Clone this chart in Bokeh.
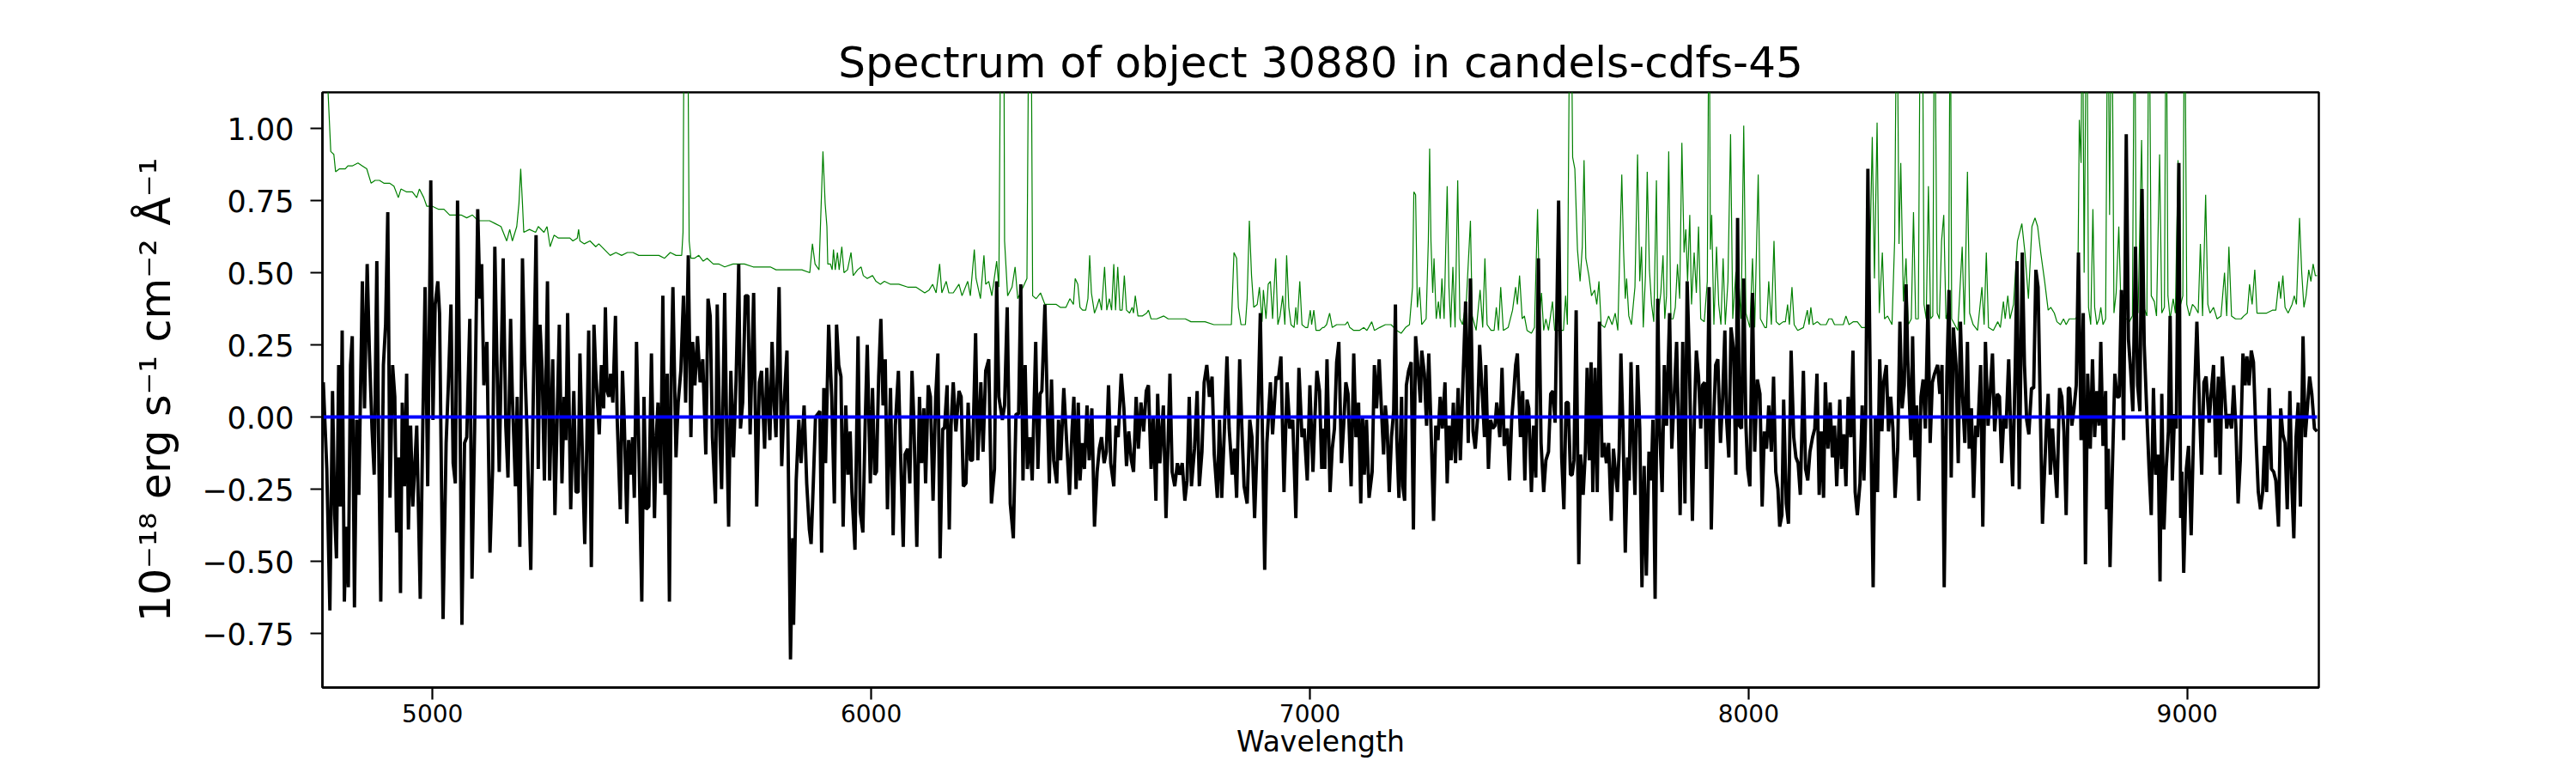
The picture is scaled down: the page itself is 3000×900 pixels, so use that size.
from bokeh.plotting import figure
from bokeh.models import Range1d, FixedTicker, CustomJSTickFormatter
from bokeh.embed import file_html
from bokeh.resources import INLINE

TITLE = "Spectrum of object 30880 in candels-cdfs-45"
X_LABEL = "Wavelength"
Y_LABEL = "10\u207b\u00b9\u2078 erg s\u207b\u00b9 cm\u207b\u00b2 \u00c5\u207b\u00b9"
x_ticks = [5000, 6000, 7000, 8000, 9000]
y_ticks = [-0.75, -0.5, -0.25, 0.0, 0.25, 0.5, 0.75, 1.0]

black_1 = [(4751,0.12),(4759,-0.18),(4766,-0.67),(4772,0.09),(4777,-0.34),(4781,-0.49),(4786,0.18),(4790,-0.31),(4794,0.30),(4799,-0.64),(4803,-0.38),(4808,-0.59),(4813,0.18),(4817,0.28),(4822,-0.66),(4827,-0.01),(4832,-0.27),(4840,0.47),(4845,0.03),(4851,0.53),(4856,0.23),(4862,-0.04),(4867,-0.20),(4873,0.54),(4877,-0.07),(4882,-0.64),(4888,0.18),(4893,0.32),(4898,0.71),(4903,-0.28),(4909,0.18),(4914,0.07),(4918,-0.40),(4923,-0.14),(4927,-0.61),(4931,0.05),(4936,-0.24),(4941,0.15),(4945,-0.39),(4950,-0.03),(4955,-0.31),(4964,-0.03),(4972,-0.63),(4978,-0.01),(4983,0.45),(4989,-0.24),(4996,0.82),(5001,-0.01),(5006,0.39),(5012,0.47),(5016,0.36),(5024,-0.70),(5031,-0.09),(5036,0.11),(5042,0.39),(5047,-0.16),(5052,-0.23),(5057,0.75),(5062,0.12),(5067,-0.72),(5073,-0.09),(5078,-0.07),(5085,0.34),(5090,-0.56),(5096,-0.04),(5103,0.72),(5108,0.41),(5112,0.53),(5117,0.11),(5124,0.26),(5131,-0.47),(5137,-0.18),(5142,0.59),(5147,0.18),(5152,-0.19),(5161,0.55),(5167,-0.03),(5172,-0.21),(5178,0.34),(5182,0.07),(5189,-0.24),(5193,0.07),(5199,-0.45),(5205,0.55),(5210,0.20),(5215,-0.03),(5224,-0.53),(5229,0.01),(5236,0.63),(5241,-0.18),(5245,0.32),(5250,0.16),(5255,-0.22),(5262,0.47),(5267,-0.22),(5274,0.20),(5279,-0.34),(5284,-0.01),(5289,0.32),(5295,-0.23),(5300,0.07),(5304,-0.08),(5308,0.36),(5315,-0.32),(5322,0.09)]
black_2 = [(5327,-0.26),(5332,-0.26),(5336,0.22),(5343,-0.22),(5347,-0.44),(5351,-0.15),(5356,0.30),(5362,-0.52),(5368,0.32),(5372,0.16),(5376,0.05),(5380,-0.06),(5385,0.18),(5390,0.03),(5394,0.38),(5398,0.09),(5402,0.07),(5406,0.15),(5411,0.05),(5417,0.35),(5421,-0.01),(5428,-0.32),(5433,0.16),(5437,-0.01),(5443,-0.37),(5447,-0.08),(5452,-0.20),(5456,-0.07),(5460,-0.28),(5465,0.26),(5470,-0.08),(5477,-0.64),(5482,0.07),(5487,-0.32),(5493,-0.31),(5499,0.22),(5506,-0.35),(5510,-0.07),(5514,0.05),(5520,-0.23),(5525,0.42),(5530,-0.27),(5535,0.15),(5540,-0.64),(5544,0.15),(5548,0.45),(5555,-0.14),(5560,0.05),(5566,0.16),(5572,0.42),(5577,0.05),(5583,0.56),(5589,-0.07),(5593,0.26),(5598,0.11),(5604,0.28),(5610,0.12),(5616,0.20),(5623,-0.13),(5628,0.41),(5633,0.35),(5638,-0.07),(5645,-0.30),(5649,0.39),(5654,-0.01),(5659,-0.25),(5666,0.43),(5670,0.00),(5675,-0.38),(5680,0.16),(5686,-0.14),(5692,0.13),(5698,0.53),(5702,-0.04),(5707,0.05),(5713,0.42),(5719,0.42),(5724,-0.06),(5732,0.43),(5739,-0.31),(5745,0.12),(5750,0.16),(5757,-0.11),(5762,0.17),(5769,-0.08),(5774,0.26),(5779,0.04),(5783,-0.07),(5790,0.45),(5796,-0.17),(5801,0.04),(5808,0.23),(5813,-0.42),(5816,-0.84),(5821,-0.42),(5823,-0.72),(5829,-0.22),(5835,-0.01),(5840,-0.16),(5847,0.04),(5853,-0.23),(5859,-0.39),(5863,-0.44),(5868,-0.23),(5873,0.00),(5878,0.01),(5883,0.02),(5887,-0.47),(5892,0.10)]
black_3 = [(5896,-0.16),(5903,0.32),(5910,0.07),(5916,-0.30),(5921,0.32),(5926,0.18),(5931,0.14),(5936,-0.38),(5942,0.04),(5947,-0.20),(5952,-0.05),(5956,-0.26),(5963,-0.46),(5970,0.28),(5975,-0.33),(5981,-0.40),(5986,-0.04),(5991,0.25),(5998,-0.23),(6003,0.10),(6008,-0.20),(6012,-0.19),(6017,0.14),(6022,0.34),(6027,0.04),(6032,0.20),(6037,-0.32),(6044,0.10),(6050,-0.41),(6055,-0.03),(6062,0.16),(6067,-0.13),(6073,-0.45),(6077,-0.13),(6083,-0.11),(6088,-0.23),(6093,0.16),(6097,0.00),(6104,-0.45),(6110,0.07),(6115,-0.16),(6120,0.03),(6124,-0.23),(6130,0.11),(6135,0.07),(6141,-0.29),(6147,0.07),(6152,0.22),(6157,-0.49),(6163,-0.04),(6167,-0.04),(6173,0.11),(6178,-0.39),(6182,-0.03),(6187,0.12),(6193,-0.05),(6200,0.09),(6205,0.07),(6210,-0.24),(6216,-0.23),(6221,0.05),(6226,-0.15),(6231,-0.15),(6238,0.29),(6243,-0.15),(6250,0.12),(6255,-0.12),(6261,0.16),(6268,0.20),(6274,-0.30),(6281,-0.18),(6286,0.47),(6291,0.07),(6299,-0.01),(6304,0.04),(6310,0.38),(6317,-0.30),(6324,-0.42),(6330,0.01),(6336,0.01),(6341,0.46),(6346,-0.22),(6351,0.18),(6356,-0.18),(6362,-0.07),(6367,-0.22),(6375,0.26),(6380,-0.18),(6385,0.08),(6389,0.09),(6396,0.39),(6401,0.07),(6406,-0.23),(6411,0.13),(6416,-0.15),(6423,-0.23),(6427,-0.01),(6432,-0.15),(6439,0.10),(6445,-0.07),(6452,-0.27),(6458,-0.04)]
black_4 = [(6462,0.07),(6467,-0.25),(6472,0.05),(6476,-0.22),(6481,-0.09),(6486,-0.18),(6492,0.04),(6497,-0.15),(6503,0.03),(6509,-0.38),(6515,-0.19),(6520,-0.11),(6525,-0.07),(6531,-0.16),(6536,-0.12),(6541,0.11),(6546,-0.16),(6553,-0.24),(6558,-0.03),(6563,-0.07),(6570,0.15),(6576,0.03),(6582,-0.17),(6587,-0.05),(6593,-0.15),(6598,-0.19),(6604,0.07),(6609,-0.11),(6615,0.05),(6621,-0.05),(6627,0.09),(6632,0.11),(6638,-0.18),(6643,0.00),(6649,-0.29),(6653,0.08),(6658,-0.16),(6666,0.04),(6672,-0.35),(6681,0.15),(6686,-0.19),(6692,-0.24),(6698,-0.16),(6703,-0.20),(6709,-0.16),(6715,-0.29),(6720,-0.22),(6725,0.07),(6730,-0.24),(6737,-0.11),(6743,0.09),(6748,-0.24),(6754,-0.12),(6759,0.12),(6765,0.18),(6771,0.07),(6777,0.14),(6782,-0.13),(6789,-0.28),(6794,-0.01),(6799,-0.28),(6805,-0.05),(6811,0.21),(6816,-0.04),(6823,-0.20),(6828,-0.11),(6833,-0.28),(6840,0.20),(6845,-0.04),(6850,-0.24),(6857,-0.30),(6863,-0.01),(6868,-0.07),(6874,-0.35),(6880,-0.08),(6887,0.36),(6892,-0.07),(6897,-0.53),(6902,-0.09),(6910,0.12),(6915,-0.06),(6923,0.14),(6928,0.13),(6934,0.21),(6941,-0.26),(6948,0.12),(6954,-0.04),(6961,-0.01),(6968,-0.35),(6975,0.17),(6982,-0.07),(6987,-0.04),(6994,-0.22),(7000,0.11),(7007,-0.19),(7011,-0.02),(7016,0.16),(7022,0.09),(7027,-0.18)]
black_5 = [(7029,-0.04),(7034,-0.18),(7039,0.20),(7046,-0.26),(7051,-0.11),(7056,-0.04),(7061,0.19),(7066,0.26),(7072,-0.16),(7077,-0.03),(7082,0.12),(7087,0.08),(7094,-0.24),(7100,0.22),(7105,-0.07),(7111,0.05),(7116,-0.30),(7120,0.00),(7124,-0.20),(7129,-0.01),(7135,-0.28),(7142,-0.19),(7147,0.18),(7152,0.03),(7158,0.20),(7163,0.03),(7168,-0.13),(7172,0.04),(7176,-0.03),(7181,-0.26),(7186,-0.07),(7191,0.02),(7195,0.39),(7198,-0.07),(7203,-0.28),(7209,0.07),(7212,-0.24),(7216,-0.29),(7220,0.11),(7225,0.16),(7231,0.19),(7236,-0.39),(7241,0.28),(7246,0.18),(7252,0.05),(7255,0.23),(7261,0.15),(7266,-0.03),(7271,0.22),(7276,-0.03),(7282,-0.36),(7287,-0.03),(7292,-0.08),(7297,0.07),(7302,-0.04),(7308,0.12),(7313,-0.23),(7317,-0.03),(7322,-0.15),(7327,0.05),(7332,-0.16),(7338,0.10),(7343,-0.15),(7348,0.08),(7355,0.40),(7361,-0.09),(7366,0.48),(7372,-0.05),(7377,-0.11),(7382,-0.01),(7387,0.25),(7392,0.11),(7398,-0.07),(7401,0.18),(7407,-0.18),(7412,-0.01),(7417,-0.04),(7422,-0.03),(7426,0.05),(7433,-0.07),(7438,0.17),(7443,-0.10),(7450,-0.04),(7455,-0.22),(7460,-0.01),(7465,0.09),(7469,0.18),(7473,0.22),(7480,-0.07),(7485,0.09),(7490,-0.22),(7495,0.06),(7499,0.03),(7505,-0.26),(7510,-0.03),(7515,-0.21),(7521,0.55),(7527,-0.09),(7533,-0.26),(7538,-0.15),(7544,-0.12),(7549,0.08),(7554,0.09),(7559,-0.02),(7567,0.75),(7574,-0.14),(7579,-0.32),(7584,0.05),(7589,0.05),(7594,-0.20)]
black_6 = [(7598,-0.20),(7602,-0.15),(7607,0.37),(7613,-0.51),(7617,-0.13),(7623,-0.27),(7628,-0.12),(7632,0.17),(7637,-0.15),(7641,0.19),(7645,-0.26),(7650,0.17),(7655,-0.26),(7660,0.33),(7666,-0.14),(7671,-0.09),(7676,-0.16),(7681,-0.09),(7687,-0.36),(7692,-0.11),(7697,-0.20),(7701,-0.26),(7705,-0.12),(7709,0.22),(7714,-0.05),(7719,-0.47),(7724,-0.14),(7728,-0.22),(7732,0.19),(7736,-0.04),(7741,-0.27),(7747,0.18),(7752,-0.04),(7757,-0.59),(7762,-0.17),(7767,-0.55),(7773,-0.12),(7778,-0.22),(7782,-0.01),(7787,-0.63),(7793,0.41),(7797,-0.03),(7803,-0.26),(7808,0.18),(7813,-0.03),(7820,0.36),(7825,-0.11),(7831,0.09),(7836,0.26),(7840,-0.01),(7844,-0.34),(7850,0.26),(7855,-0.30),(7860,0.47),(7865,0.20),(7872,-0.36),(7877,0.03),(7881,0.23),(7886,0.14),(7891,-0.04),(7895,0.11),(7900,0.12),(7904,-0.18),(7910,0.45),(7915,-0.39),(7920,-0.03),(7925,0.18),(7930,0.20),(7936,-0.09),(7941,0.07),(7946,0.30),(7950,-0.01),(7955,-0.14),(7960,0.31),(7966,0.23),(7971,-0.20),(7975,0.69),(7979,-0.03),(7984,-0.04),(7989,0.48),(7994,-0.03),(7998,-0.18),(8003,-0.24),(8009,0.43),(8014,-0.12),(8020,0.13),(8026,0.08),(8031,-0.31),(8036,-0.05),(8041,-0.11),(8046,0.04),(8052,-0.12),(8057,0.14),(8062,-0.19),(8067,-0.25),(8071,-0.38),(8076,-0.34),(8080,0.06),(8086,-0.30),(8091,-0.37),(8097,0.23),(8103,-0.07),(8108,-0.14),(8113,-0.16),(8118,-0.27),(8125,0.16),(8130,-0.18),(8135,-0.22),(8140,-0.12),(8146,-0.07),(8151,-0.04),(8156,0.15),(8161,-0.27)]
black_7 = [(8166,-0.05),(8171,-0.28),(8175,0.12),(8181,-0.11),(8186,0.05),(8191,-0.14),(8196,-0.03),(8201,-0.24),(8208,0.06),(8212,-0.18),(8217,-0.06),(8222,-0.24),(8227,0.07),(8233,-0.07),(8238,0.23),(8243,-0.26),(8248,-0.34),(8254,-0.23),(8259,0.04),(8263,-0.22),(8267,0.00),(8272,0.86),(8278,0.04),(8284,-0.59),(8289,0.00),(8294,-0.26),(8299,0.20),(8304,-0.05),(8308,0.12),(8314,0.18),(8319,-0.05),(8324,0.07),(8329,-0.04),(8334,-0.28),(8340,-0.11),(8345,0.33),(8350,0.03),(8355,0.11),(8359,0.46),(8363,0.20),(8370,-0.08),(8374,0.28),(8379,-0.14),(8383,0.04),(8388,-0.29),(8393,0.07),(8398,0.13),(8403,-0.04),(8409,0.39),(8414,-0.09),(8419,0.12),(8424,0.15),(8431,0.18),(8436,0.08),(8441,0.18),(8446,-0.59),(8452,0.14),(8457,0.44),(8462,-0.21),(8467,0.31),(8473,0.18),(8478,-0.16),(8483,0.33),(8488,0.07),(8493,-0.09),(8499,0.26),(8503,-0.11),(8508,0.03),(8513,-0.28),(8518,-0.03),(8522,-0.07),(8529,0.18),(8534,-0.38),(8540,0.26),(8546,-0.03),(8551,0.09),(8556,0.22),(8561,-0.05),(8567,0.08),(8572,0.07),(8577,-0.16),(8582,0.00),(8587,-0.04),(8593,0.20),(8598,-0.07),(8602,-0.24),(8608,0.18),(8612,0.54),(8617,-0.25),(8624,0.57),(8629,0.18),(8634,-0.01),(8639,-0.06),(8645,0.10),(8650,0.10),(8655,0.51),(8660,0.45),(8666,-0.05),(8670,-0.37),(8675,-0.18),(8679,-0.03),(8683,0.08),(8688,-0.20),(8693,-0.04),(8698,-0.17),(8703,-0.28),(8709,0.10),(8714,0.07),(8719,-0.05),(8724,-0.34),(8729,0.10)]
black_8 = [(8732,0.10),(8737,-0.03),(8742,0.03),(8747,0.11),(8752,0.57),(8758,-0.08),(8763,0.36),(8768,-0.51),(8773,0.15),(8779,-0.11),(8784,0.20),(8789,-0.07),(8794,0.09),(8799,-0.03),(8803,0.26),(8808,-0.10),(8814,0.09),(8816,-0.32),(8820,-0.11),(8824,-0.52),(8829,-0.20),(8835,0.15),(8840,0.07),(8845,0.07),(8850,0.44),(8855,-0.08),(8861,0.98),(8866,0.27),(8871,0.16),(8876,0.02),(8882,0.59),(8887,0.11),(8892,0.02),(8897,0.79),(8902,0.25),(8908,0.01),(8913,-0.18),(8918,-0.34),(8923,0.10),(8928,-0.20),(8934,-0.13),(8938,-0.57),(8942,0.08),(8947,-0.39),(8952,-0.18),(8957,-0.05),(8961,0.35),(8966,-0.22),(8971,0.01),(8975,-0.04),(8981,0.88),(8985,-0.35),(8988,-0.19),(8992,-0.54),(8998,-0.18),(9003,-0.10),(9009,-0.41),(9016,0.05),(9022,0.33),(9028,0.03),(9033,-0.20),(9038,0.12),(9043,0.14),(9050,-0.02),(9055,0.09),(9060,0.18),(9065,-0.14),(9071,0.14),(9075,-0.20),(9080,0.21),(9085,0.09),(9090,-0.04),(9095,0.01),(9101,-0.04),(9106,0.11),(9111,-0.04),(9116,-0.30),(9121,-0.15),(9127,0.22),(9132,0.11),(9136,0.21),(9141,0.11),(9146,0.23),(9151,0.19),(9157,-0.08),(9162,-0.26),(9167,-0.32),(9172,-0.26),(9176,-0.10),(9181,-0.26),(9187,0.10),(9192,-0.18),(9197,-0.19),(9202,-0.22),(9208,-0.38),(9213,0.03),(9218,-0.06),(9223,-0.09),(9228,-0.32),(9234,0.09),(9239,-0.26),(9243,-0.42),(9248,-0.07),(9253,0.05),(9258,-0.31),(9264,0.28),(9269,-0.07),(9274,0.03),(9279,0.14),(9284,0.08),(9290,-0.04),(9296,-0.05)]

# uncertainty / contamination curve (wavelength, value); sky lines run off the top
green_1 = [(4752,1.60),(4762,1.12),(4768,0.92),(4775,0.91),(4779,0.85),(4788,0.86),(4801,0.86),(4807,0.87),(4817,0.87),(4830,0.88),(4840,0.87),(4850,0.86),(4860,0.81),(4869,0.82),(4879,0.82),(4889,0.81),(4902,0.81),(4912,0.80),(4922,0.76),(4928,0.79),(4941,0.78),(4954,0.78),(4964,0.76),(4970,0.79),(4980,0.76),(4987,0.73),(5000,0.73),(5013,0.72),(5026,0.72),(5039,0.70),(5052,0.70),(5065,0.70),(5078,0.69),(5091,0.70),(5104,0.68),(5117,0.68),(5130,0.68),(5143,0.67),(5156,0.66),(5169,0.61),(5176,0.65),(5182,0.61),(5192,0.66),(5197,0.74),(5201,0.86),(5205,0.74),(5208,0.64),(5221,0.65),(5235,0.64),(5241,0.66),(5254,0.64),(5261,0.66),(5268,0.59),(5277,0.63),(5287,0.62),(5300,0.62),(5313,0.62)]
green_2 = [(5320,0.61),(5330,0.62),(5333,0.65),(5336,0.61),(5346,0.60),(5359,0.61),(5372,0.59),(5379,0.60),(5392,0.58),(5405,0.56),(5418,0.57),(5431,0.56),(5444,0.57),(5457,0.57),(5470,0.56),(5483,0.56),(5503,0.56),(5516,0.56),(5529,0.55),(5542,0.57),(5555,0.56),(5568,0.56),(5571,0.64),(5574,1.60),(5581,1.60),(5585,0.61),(5589,0.55),(5597,0.55),(5607,0.56),(5617,0.54),(5626,0.55),(5640,0.53),(5653,0.53),(5666,0.52),(5685,0.53),(5698,0.53),(5711,0.53),(5731,0.52),(5750,0.52),(5770,0.52),(5783,0.51),(5803,0.51),(5822,0.51),(5842,0.51),(5860,0.50),(5866,0.60),(5872,0.53),(5881,0.51),(5886,0.74),(5890,0.92)]
green_3 = [(5895,0.74),(5899,0.66),(5901,0.53),(5907,0.53),(5911,0.51),(5914,0.58),(5918,0.51),(5923,0.57),(5927,0.51),(5933,0.59),(5938,0.50),(5946,0.51),(5954,0.57),(5959,0.49),(5969,0.51),(5977,0.52),(5982,0.49),(5991,0.48),(6003,0.49),(6011,0.47),(6021,0.46),(6030,0.47),(6044,0.46),(6063,0.46),(6083,0.45),(6102,0.45),(6122,0.43),(6132,0.44),(6140,0.46),(6148,0.43),(6156,0.53),(6161,0.43),(6171,0.47),(6177,0.43),(6187,0.43),(6200,0.46),(6207,0.42),(6220,0.47),(6226,0.42),(6235,0.58),(6239,0.48),(6249,0.41),(6257,0.56),(6261,0.46),(6268,0.47),(6275,0.42),(6286,0.54),(6291,0.45),(6296,1.60),(6302,1.60),(6304,0.61),(6311,0.42),(6321,0.45),(6328,0.52),(6334,0.41),(6343,0.44),(6355,0.48),(6360,1.60),(6364,1.60),(6368,0.42),(6376,0.41),(6386,0.43),(6396,0.39),(6409,0.39),(6422,0.39),(6431,0.38),(6444,0.38),(6453,0.41),(6461,0.39)]
green_4 = [(6465,0.48),(6471,0.46),(6476,0.38),(6482,0.37),(6489,0.37),(6494,0.41),(6498,0.56),(6502,0.43),(6509,0.36),(6514,0.38),(6520,0.41),(6525,0.37),(6532,0.52),(6537,0.37),(6543,0.41),(6548,0.37),(6553,0.53),(6557,0.37),(6562,0.52),(6567,0.37),(6572,0.37),(6577,0.49),(6582,0.37),(6589,0.36),(6595,0.38),(6598,0.36),(6602,0.42),(6608,0.35),(6618,0.35),(6628,0.36),(6632,0.37),(6638,0.34),(6651,0.34),(6667,0.35),(6677,0.34),(6690,0.34),(6703,0.34),(6716,0.34),(6729,0.33),(6742,0.33),(6761,0.33),(6781,0.32),(6801,0.32),(6821,0.32),(6827,0.57),(6833,0.55),(6837,0.38),(6843,0.32),(6853,0.32),(6857,0.41),(6862,0.68),(6867,0.49),(6872,0.38),(6880,0.39),(6885,0.45),(6891,0.33),(6894,0.44),(6900,0.34),(6905,0.46),(6910,0.47),(6915,0.34),(6922,0.55),(6927,0.32),(6932,0.35),(6938,0.42),(6943,0.32),(6947,0.56),(6952,0.38),(6957,0.32),(6964,0.31),(6968,0.38),(6971,0.32),(6977,0.47),(6982,0.32),(6990,0.31),(6995,0.31),(7001,0.37),(7004,0.32),(7009,0.37),(7014,0.30),(7022,0.30),(7029,0.31)]
green_5 = [(7032,0.31),(7038,0.32),(7045,0.36),(7051,0.31),(7061,0.32),(7071,0.32),(7081,0.32),(7086,0.33),(7091,0.31),(7100,0.30),(7113,0.30),(7123,0.31),(7130,0.30),(7141,0.33),(7147,0.30),(7159,0.31),(7172,0.32),(7185,0.32),(7198,0.30),(7208,0.29),(7218,0.31),(7227,0.32),(7234,0.45),(7237,0.78),(7241,0.77),(7245,0.38),(7250,0.45),(7255,0.32),(7265,0.34),(7270,0.61),(7273,0.93),(7276,0.61),(7280,0.43),(7283,0.55),(7288,0.34),(7293,0.40),(7297,0.34),(7301,0.48),(7306,0.34),(7313,0.80),(7317,0.45),(7321,0.31),(7326,0.52),(7331,0.31),(7337,0.82),(7342,0.34),(7348,0.32),(7357,0.41),(7366,0.68),(7370,0.35),(7379,0.30),(7388,0.44),(7394,0.31),(7399,0.55),(7404,0.32),(7413,0.30),(7420,0.30),(7425,0.38),(7430,0.30),(7435,0.45),(7441,0.30),(7452,0.31),(7462,0.37),(7469,0.45),(7473,0.39),(7478,0.49),(7484,0.34),(7489,0.35),(7495,0.30),(7505,0.29),(7512,0.31),(7519,0.72),(7524,0.36),(7528,0.43),(7533,0.30),(7538,0.34),(7544,0.30),(7553,0.40),(7558,0.30),(7570,0.30),(7578,0.30),(7583,0.42),(7587,0.32),(7593,1.60)]
green_6 = [(7595,1.60),(7599,0.90),(7604,0.86),(7610,0.58),(7616,0.47),(7621,0.59),(7625,0.89),(7629,0.55),(7636,0.49),(7642,0.42),(7649,0.44),(7654,0.39),(7659,0.47),(7664,0.32),(7672,0.31),(7681,0.35),(7689,0.32),(7696,0.36),(7702,0.30),(7707,0.61),(7711,0.84),(7715,0.58),(7719,0.41),(7722,0.48),(7727,0.35),(7733,0.32),(7741,0.45),(7747,0.91),(7752,0.47),(7756,0.59),(7760,0.31),(7765,0.49),(7769,0.85),(7774,0.51),(7779,0.39),(7784,0.33),(7790,0.82),(7793,0.34),(7800,0.43),(7805,0.56),(7809,0.34),(7813,0.42),(7818,0.92),(7823,0.34),(7828,0.34),(7833,0.38),(7838,0.53),(7843,0.41),(7848,0.95),(7853,0.57),(7857,0.65),(7861,0.47),(7866,0.70),(7870,0.39),(7876,0.57),(7881,0.43),(7886,0.66),(7891,0.34),(7899,0.33),(7906,0.47),(7910,1.60),(7913,0.58),(7916,0.70),(7921,0.32),(7927,0.59),(7932,0.39),(7937,0.32),(7942,0.55),(7947,0.32),(7953,0.47),(7959,0.98),(7964,0.34),(7971,0.50),(7976,0.51),(7983,0.34),(7989,1.01),(7994,0.36),(8003,0.31),(8009,0.55),(8014,0.31),(8022,0.84),(8027,0.34),(8037,0.31),(8041,0.31),(8046,0.47),(8052,0.32),(8058,0.61),(8063,0.33),(8070,0.32),(8079,0.33),(8084,0.33),(8089,0.39),(8093,0.32),(8099,0.45),(8104,0.32),(8112,0.30),(8125,0.31),(8134,0.37),(8138,0.32),(8142,0.38),(8147,0.32),(8157,0.33),(8164,0.32)]
green_7 = [(8170,0.32),(8177,0.32),(8183,0.34),(8190,0.34),(8196,0.32),(8209,0.32),(8216,0.32),(8222,0.35),(8229,0.32),(8239,0.33),(8248,0.33),(8258,0.31),(8268,0.31),(8274,0.34),(8282,0.97),(8287,0.48),(8293,1.02),(8298,0.36),(8305,0.57),(8310,0.34),(8317,0.35),(8327,0.32),(8333,0.61),(8338,1.60),(8343,0.60),(8347,0.88),(8353,0.40),(8359,0.55),(8364,0.32),(8371,0.34),(8376,0.71),(8381,0.34),(8387,0.34),(8392,1.60),(8396,1.60),(8400,0.39),(8405,0.34),(8410,0.80),(8415,0.34),(8420,0.35),(8424,1.60),(8430,0.36),(8435,0.34),(8440,0.61),(8445,0.70),(8450,0.34),(8456,0.37),(8460,1.60),(8463,0.34),(8470,0.32),(8477,0.30),(8487,0.59),(8492,0.32),(8499,0.85),(8504,0.36),(8512,0.32),(8522,0.30),(8532,0.45),(8537,0.32),(8542,0.57),(8547,0.31),(8558,0.30),(8568,0.33),(8574,0.31),(8581,0.40),(8585,0.34),(8591,0.42),(8596,0.34),(8604,0.39),(8613,0.61),(8623,0.67),(8630,0.57),(8638,0.41),(8646,0.66),(8653,0.69),(8659,0.66),(8666,0.57),(8675,0.47),(8683,0.37),(8689,0.38),(8697,0.36),(8703,0.33),(8711,0.32),(8718,0.34),(8724,0.32),(8731,0.34)]
green_8 = [(8738,0.34),(8745,0.34),(8750,0.35),(8754,1.03),(8758,0.88),(8761,1.60),(8765,0.50),(8771,1.60),(8775,0.38),(8780,0.32),(8785,0.72),(8789,0.38),(8794,0.32),(8799,0.34),(8803,0.38),(8808,0.32),(8814,0.34),(8819,1.60),(8823,0.70),(8828,1.60),(8833,0.36),(8838,0.43),(8844,0.66),(8849,0.38),(8855,0.34),(8862,0.34),(8868,0.33),(8875,0.35),(8880,1.60),(8884,0.39),(8888,0.36),(8896,0.96),(8901,0.38),(8908,0.35),(8913,1.60),(8918,0.42),(8925,0.40),(8930,0.35),(8937,0.91),(8942,0.36),(8948,0.38),(8952,1.60),(8956,0.42),(8961,0.34),(8968,0.41),(8973,0.36),(8979,0.89),(8985,0.39),(8990,0.42),(8994,1.60),(8999,0.39),(9005,0.35),(9012,0.39),(9018,0.38),(9025,0.36),(9030,0.60),(9035,0.35),(9042,0.77),(9047,0.39),(9052,0.36),(9060,0.38),(9068,0.34),(9077,0.35),(9085,0.50),(9090,0.35),(9095,0.59),(9101,0.35),(9110,0.34),(9116,0.34),(9123,0.34),(9129,0.35),(9137,0.36),(9142,0.46),(9148,0.39),(9154,0.51),(9159,0.36),(9168,0.36),(9181,0.36),(9194,0.37),(9202,0.37),(9209,0.47),(9213,0.41),(9218,0.49),(9223,0.38),(9230,0.36),(9239,0.39),(9244,0.42),(9249,0.39),(9256,0.69),(9261,0.50),(9266,0.38),(9271,0.42),(9277,0.51),(9282,0.47),(9287,0.53),(9292,0.49),(9296,0.49)]

# model (zero level)
model_wave = [4751, 9296]
model_flux = [0.0, 0.0]


def unzip(segments):
    w, f = [], []
    for seg in segments:
        for a, b in seg:
            w.append(a)
            f.append(b)
    return w, f


black_wave, black_flux = unzip([black_1, black_2, black_3, black_4, black_5, black_6, black_7, black_8])
green_wave, green_flux = unzip([green_1, green_2, green_3, green_4, green_5, green_6, green_7, green_8])

FONT = "DejaVu Sans"

p = figure(width=2984, height=890, output_backend="svg", toolbar_location=None,
           x_range=Range1d(4749, 9300), y_range=Range1d(-0.9375, 1.125),
           min_border_left=375, min_border_right=284, min_border_top=107, min_border_bottom=90,
           title=TITLE)
p.background_fill_color = "white"
p.border_fill_color = "white"
p.grid.visible = False
p.outline_line_color = "black"
p.outline_line_width = 2.5
p.outline_line_alpha = 1.0

p.title.text_font = FONT
p.title.text_font_size = "50px"
p.title.text_font_style = "normal"
p.title.text_color = "black"
p.title.align = "center"
p.title.standoff = 11

p.line(green_wave, green_flux, line_color="#008000", line_width=1.2)
p.line(black_wave, black_flux, line_color="black", line_width=3.9)
p.line(model_wave, model_flux, line_color="#0000ff", line_width=4.2)

for ax in (p.xaxis[0], p.yaxis[0]):
    ax.axis_line_color = "black"
    ax.axis_line_width = 2.5
    ax.major_tick_line_color = "black"
    ax.major_tick_line_width = 2.2
    ax.major_tick_out = 14
    ax.major_tick_in = 0
    ax.minor_tick_line_color = None
    ax.major_label_text_color = "black"
    ax.major_label_text_font = FONT
    ax.axis_label_text_color = "black"
    ax.axis_label_text_font = FONT
    ax.axis_label_text_font_style = "normal"

p.xaxis.ticker = FixedTicker(ticks=x_ticks)
p.xaxis.major_label_text_font_size = "28px"
p.xaxis.major_label_standoff = 5
p.xaxis.axis_label = X_LABEL
p.xaxis.axis_label_text_font_size = "33px"
p.xaxis.axis_label_standoff = 0

p.yaxis.ticker = FixedTicker(ticks=y_ticks)
p.yaxis.formatter = CustomJSTickFormatter(code="return (tick < 0 ? '\\u2212' : '') + Math.abs(tick).toFixed(2);")
p.yaxis.major_label_text_font_size = "35px"
p.yaxis.major_label_standoff = 19
p.yaxis.axis_label = Y_LABEL
p.yaxis.axis_label_text_font_size = "49px"
p.yaxis.axis_label_standoff = 22

open("out.html", "w").write(file_html(p, INLINE))
